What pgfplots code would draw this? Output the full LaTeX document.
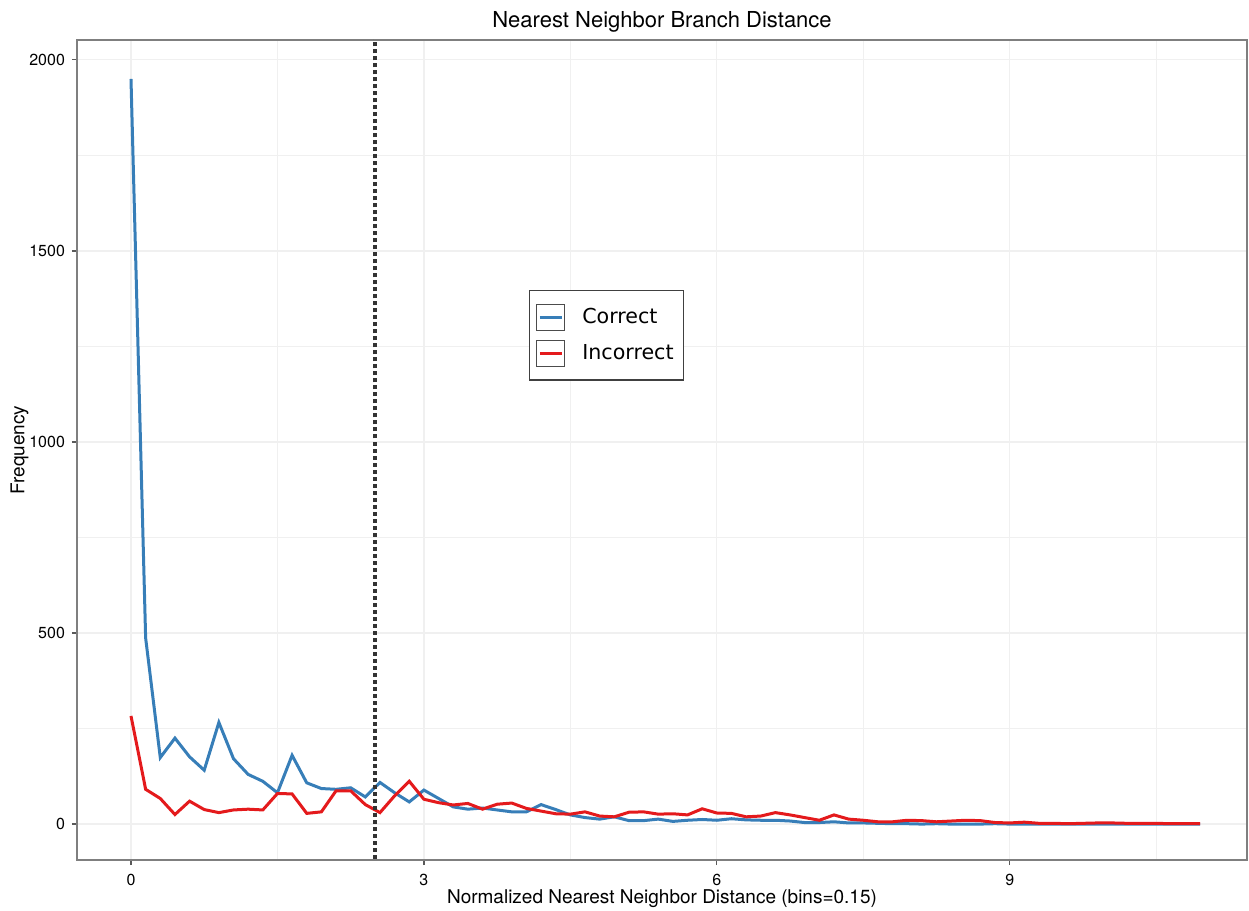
\documentclass[border=0pt]{standalone}
\usepackage{pgfplots}
\pgfplotsset{compat=1.18}
\usepackage{fontspec}
\setmainfont{TeX Gyre Heros}
\newfontfamily\dejavu{DejaVu Sans}
\definecolor{cblue}{HTML}{377EB8}
\definecolor{cred}{HTML}{E41A1C}
\definecolor{framegray}{HTML}{7F7F7F}
\definecolor{gridgray}{HTML}{F0F0F0}
\begin{document}
\begin{tikzpicture}
\useasboundingbox (-38.5pt,-25.5pt) rectangle (586pt,430pt);
\begin{axis}[
  at={(0pt,0pt)}, anchor=south west,
  scale only axis,
  width=585pt, height=410pt,
  xmin=-0.553, xmax=11.43,
  ymin=-94, ymax=2052,
  xtick={0,3,6,9}, minor xtick={1.5,4.5,7.5,10.5},
  ytick={0,500,1000,1500,2000}, minor ytick={250,750,1250,1750},
  grid=both,
  major grid style={gridgray, line width=0.6pt},
  minor grid style={gridgray, line width=0.6pt},
  axis line style={framegray, line width=0.9pt},
  tick align=outside, tick pos=left,
  major tick length=2.5pt,
  minor tick length=0pt,
  tick style={framegray!70!black, line width=0.6pt},
  /pgf/number format/assume math mode=true,
  /pgf/number format/1000 sep={},
  tick label style={font=\fontsize{8}{9}\selectfont, black},
  xticklabel style={yshift=-1pt},
  title={Nearest Neighbor Branch Distance},
  title style={font=\fontsize{11}{13}\selectfont, yshift=-5.5pt},
  xlabel={Normalized Nearest Neighbor Distance (bins=0.15)},
  ylabel={Frequency},
  xlabel style={font=\fontsize{9.5}{11}\selectfont, yshift=5pt},
  ylabel style={font=\fontsize{9.5}{11}\selectfont, yshift=-6.5pt},
  legend style={at={(0.386,0.695)}, anchor=north west, draw=black!75, line width=0.6pt,
    font=\dejavu\fontsize{10.3}{12}\selectfont, row sep=4.5pt,
    inner xsep=3.5pt, inner ysep=6.5pt,
    nodes={inner xsep=1.5pt}},
  legend cell align=left,
  legend image code/.code={%
    \draw[black!70, line width=0.6pt, solid] (0pt,-6.5pt) rectangle (14pt,6.5pt);
    \draw[#1, line width=1.5pt] (1.5pt,0pt) -- (12.5pt,0pt);
    \path (20.5pt,0pt);},
]
\addplot[cblue, line width=1.5pt] coordinates {
(0,1950) (0.15,487) (0.3,174) (0.45,225) (0.6,176) (0.75,141) (0.9,266) (1.05,171)
(1.2,130) (1.35,112) (1.5,82) (1.65,180) (1.8,108) (1.95,93) (2.1,91) (2.25,95)
(2.4,71) (2.55,109) (2.7,82) (2.85,58) (3.0,89) (3.15,67) (3.3,45) (3.45,39)
(3.6,42) (3.75,37) (3.9,32) (4.05,32) (4.2,51) (4.35,38) (4.5,24) (4.65,17)
(4.8,13) (4.95,19) (5.1,9) (5.25,9) (5.4,13) (5.55,7) (5.7,10) (5.85,12)
(6.0,10) (6.15,14) (6.3,11) (6.45,10) (6.6,10) (6.75,8) (6.9,4) (7.05,4)
(7.2,6) (7.35,3) (7.5,3) (7.65,2) (7.8,1) (7.95,1) (8.1,0) (8.25,1)
(8.4,0) (8.55,0) (8.7,0) (8.85,1) (9.0,0) (9.15,0) (9.3,0) (9.45,0)
(9.6,0) (9.75,0) (9.9,0) (10.05,0) (10.2,0) (10.35,0) (10.5,0) (10.65,0)
(10.8,0) (10.95,0)
};
\addlegendentry{Correct}
\addplot[cred, line width=1.5pt] coordinates {
(0,283) (0.15,91) (0.3,67) (0.45,25) (0.6,60) (0.75,38) (0.9,30) (1.05,37)
(1.2,39) (1.35,37) (1.5,80) (1.65,79) (1.8,28) (1.95,32) (2.1,87) (2.25,87)
(2.4,51) (2.55,30) (2.7,74) (2.85,112) (3.0,65) (3.15,56) (3.3,50) (3.45,54)
(3.6,39) (3.75,52) (3.9,55) (4.05,41) (4.2,34) (4.35,27) (4.5,26) (4.65,32)
(4.8,21) (4.95,19) (5.1,31) (5.25,32) (5.4,26) (5.55,27) (5.7,24) (5.85,40)
(6.0,29) (6.15,28) (6.3,19) (6.45,21) (6.6,30) (6.75,24) (6.9,17) (7.05,10)
(7.2,24) (7.35,13) (7.5,10) (7.65,6) (7.8,6) (7.95,10) (8.1,9) (8.25,6)
(8.4,8) (8.55,10) (8.7,9) (8.85,4) (9.0,3) (9.15,5) (9.3,2) (9.45,2)
(9.6,1) (9.75,2) (9.9,3) (10.05,3) (10.2,2) (10.35,2) (10.5,2) (10.65,1)
(10.8,1) (10.95,1)
};
\addlegendentry{Incorrect}
\addplot[black!80, line width=2pt, dash pattern=on 2pt off 1.5pt, forget plot] coordinates {(2.5,-200) (2.5,2200)};
\end{axis}
\end{tikzpicture}
\end{document}
